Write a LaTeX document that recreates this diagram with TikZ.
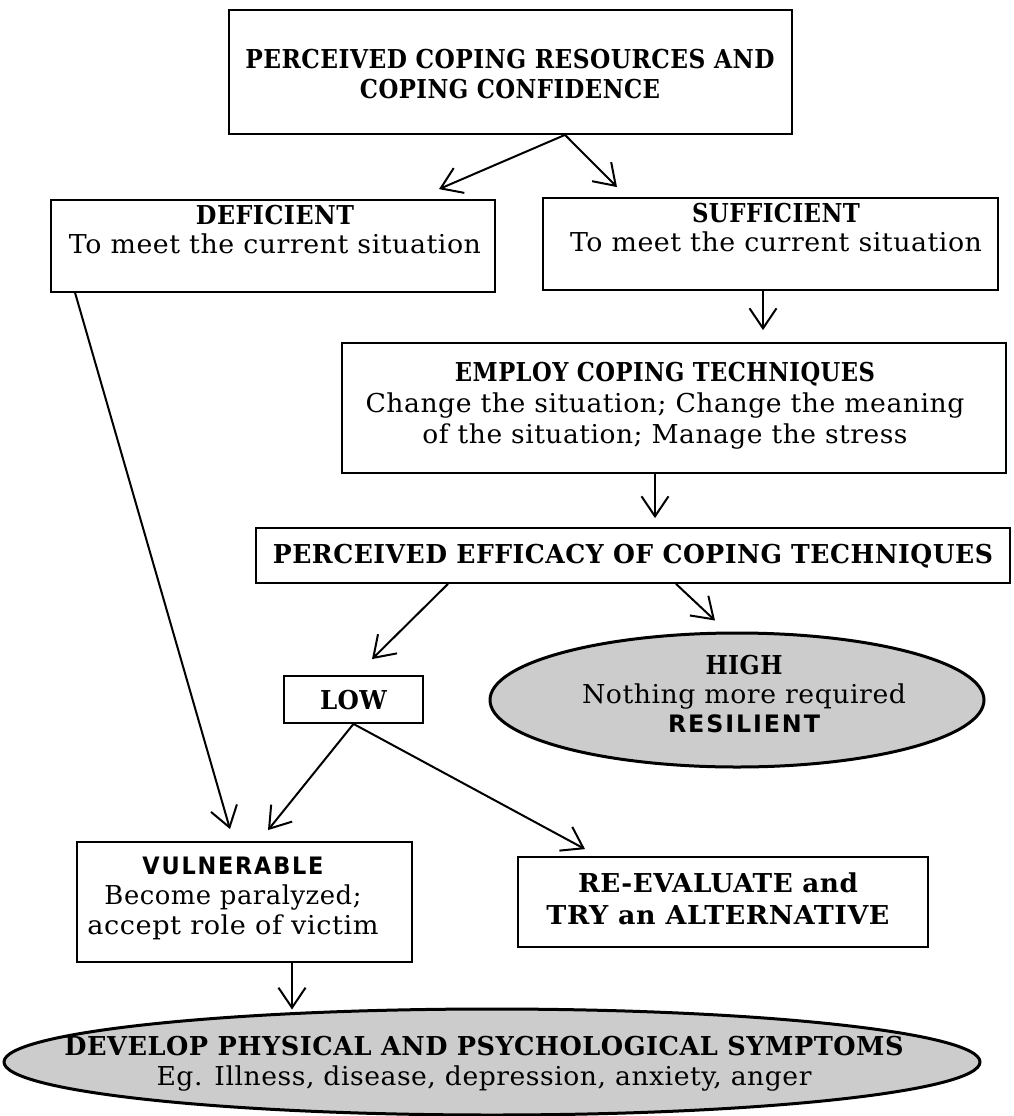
\documentclass[tikz,border=0pt]{standalone}
\usepackage{fontspec}
\usepackage{graphicx}
\setmainfont{DejaVu Serif}[LetterSpace=2]
\newfontfamily\heavyfont{DejaVu Sans}[LetterSpace=8]
\usetikzlibrary{arrows.meta,shapes.geometric}
\newcommand{\fw}[2]{\resizebox{#1pt}{\height}{#2}}
\begin{document}
\begin{tikzpicture}[x=1pt,y=-1pt,
  box/.style={draw, line width=1.8pt, inner sep=0pt, rectangle},
  oval/.style={draw, ellipse, line width=3pt, fill=black!20, inner sep=0pt},
  txt/.style={align=center, inner sep=0pt, font=\fontsize{26}{30}\selectfont},
  heavy/.style={},
  arr/.style={line width=2pt, -{Straight Barb[length=20pt,width=27pt]}}]
\fill[white] (0,0) rectangle (1014,1116);
\useasboundingbox (0,0) rectangle (1014,1116);

% shapes
\node[box, minimum width=563pt, minimum height=124pt] (top) at (510.5,72) {};
\node[box, minimum width=444pt, minimum height=92pt] (def) at (273,246) {};
\node[box, minimum width=455pt, minimum height=92pt] (suf) at (770.5,244) {};
\node[box, minimum width=664pt, minimum height=130pt] (emp) at (674,408) {};
\node[box, minimum width=754pt, minimum height=55pt] (eff) at (633,555.5) {};
\node[box, minimum width=139pt, minimum height=47pt] (low) at (353.5,699.5) {};
\node[oval, minimum width=494pt, minimum height=134pt] (high) at (737,700) {};
\node[box, minimum width=335pt, minimum height=120pt] (vul) at (244.5,902) {};
\node[box, minimum width=410pt, minimum height=90pt] (ree) at (723,902) {};
\node[oval, minimum width=976pt, minimum height=106pt] (dev) at (492,1062) {};

% texts
\node[txt] (toptxt) at (510,74) {{\bfseries\fw{529}{PERCEIVED COPING RESOURCES AND}}\\{\bfseries\fw{300}{COPING CONFIDENCE}}};
\node[txt, font=\fontsize{26}{29}\selectfont] (deftxt) at (275,230) {{\bfseries\fw{158}{DEFICIENT}}\\\fw{412}{To meet the current situation}};
\node[txt, font=\fontsize{26}{29}\selectfont] (suftxt) at (776,228) {{\bfseries\fw{168}{SUFFICIENT}}\\\fw{412}{To meet the current situation}};
\node[txt, font=\fontsize{26}{31}\selectfont] (emptxt) at (665,406) {{\bfseries\fw{420}{EMPLOY COPING TECHNIQUES}}\\\fw{599}{Change the situation; Change the meaning}\\\fw{485}{of the situation; Manage the stress}};
\node[txt] (efftxt) at (633,556) {\bfseries\fw{720}{PERCEIVED EFFICACY OF COPING TECHNIQUES}};
\node[txt] (lowtxt) at (353.5,700) {\bfseries\fw{67}{LOW}};
\node[txt, font=\fontsize{26}{29}\selectfont] (hightxt) at (744,694) {{\bfseries\fw{77}{HIGH}}\\\fw{324}{Nothing more required}\\{\heavyfont\bfseries\fontsize{24}{29}\selectfont\fw{152}{RESILIENT}}};
\node[txt, font=\fontsize{26}{30}\selectfont] (vultxt) at (233,898) {{\heavyfont\bfseries\fontsize{24}{30}\selectfont\fw{181}{VULNERABLE}}\\\fw{257}{Become paralyzed;}\\\fw{291}{accept role of victim}};
\node[txt, font=\fontsize{26}{32}\selectfont] (reetxt) at (718,899) {{\bfseries\fw{280}{RE-EVALUATE and}}\\{\bfseries\fw{343}{TRY an ALTERNATIVE}}};
\node[txt, font=\fontsize{26}{30}\selectfont] (devtxt) at (484,1064) {{\bfseries\fw{839}{DEVELOP PHYSICAL AND PSYCHOLOGICAL SYMPTOMS}}\\\fw{655}{Eg. Illness, disease, depression, anxiety, anger}};

% connectors
\draw[arr] ([xshift=54.5pt]top.south) -- ([xshift=166pt,yshift=10pt]def.north);
\draw[arr] ([xshift=54.5pt]top.south) -- ([xshift=-153.5pt,yshift=10pt]suf.north);
\draw[arr] ([xshift=25pt]def.south west) -- ([xshift=-14.5pt,yshift=12pt]vul.north);
\draw[arr] ([xshift=-7.5pt]suf.south) -- ([xshift=89pt,yshift=12pt]emp.north);
\draw[arr] ([xshift=-19pt]emp.south) -- ([xshift=22pt,yshift=9pt]eff.north);
\draw[arr] ([xshift=-185pt]eff.south) -- ([xshift=18.5pt,yshift=16pt]low.north);
\draw[arr] ([xshift=43pt]eff.south) -- ([xshift=-22pt,yshift=11pt]high.north);
\draw[arr] (low.south) -- ([xshift=23.5pt,yshift=11pt]vul.north);
\draw[arr] (low.south) -- ([xshift=-138pt,yshift=7pt]ree.north);
\draw[arr] ([xshift=47.5pt]vul.south) -- ([xshift=-200pt,yshift=-2pt]dev.north);
\end{tikzpicture}
\end{document}
